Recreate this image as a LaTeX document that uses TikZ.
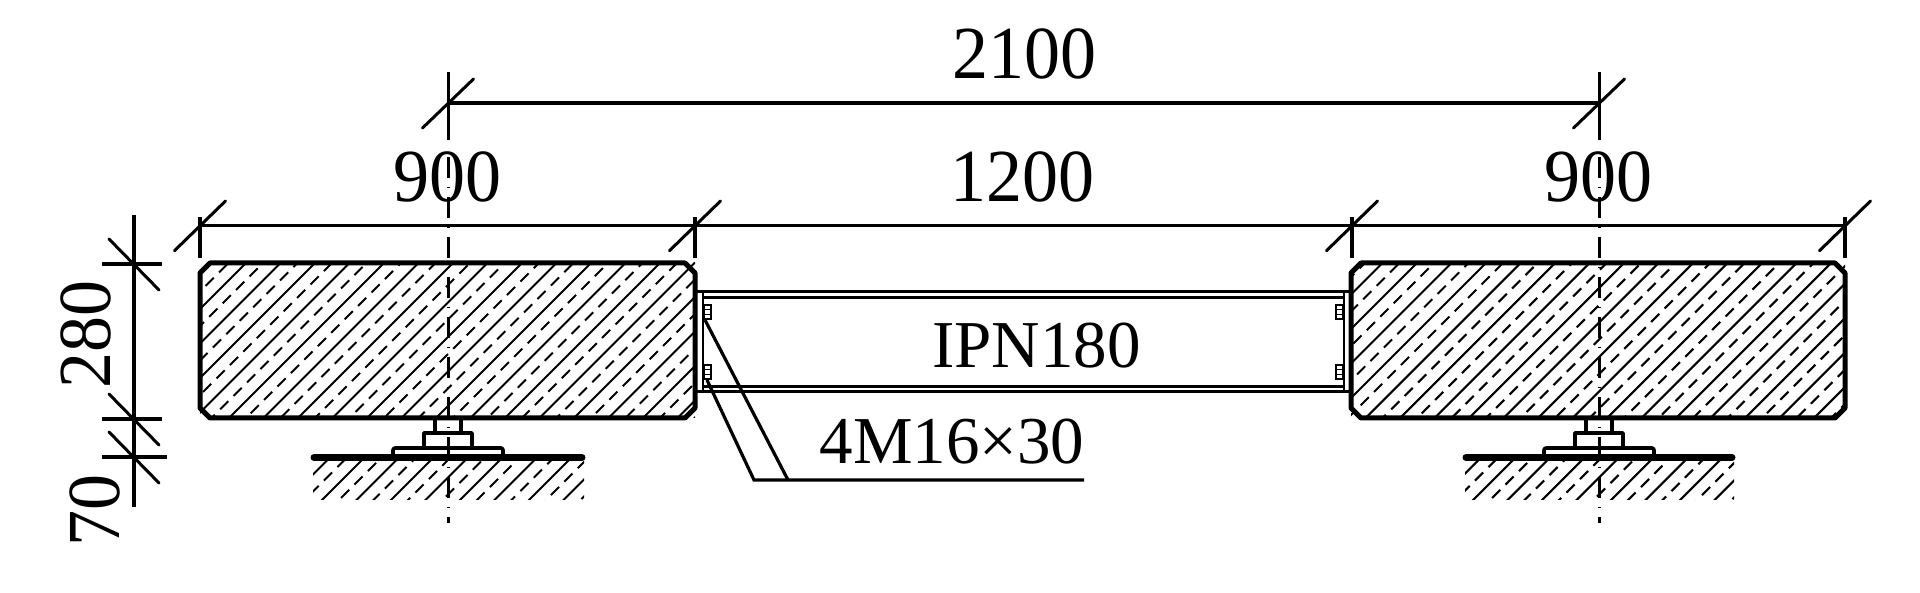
\documentclass[tikz,border=0pt]{standalone}
\usepackage{fontspec}
\setmainfont{Liberation Serif}
\newcommand{\dimfont}{\fontsize{72}{72}\selectfont}
\newcommand{\lblfont}{\fontsize{67}{67}\selectfont}
\newcommand{\dimstr}[1]{\scalebox{1}[1.04]{#1}}
\tikzset{
  outline/.style={line width=5pt,line join=round},
  detail/.style={line width=3.6pt,line join=round},
  dimline/.style={line width=3.2pt},
  slash/.style={line width=3pt,line cap=round},
  hatchsolid/.style={line width=2.1pt},
  hatchdash/.style={line width=2.1pt,dash pattern=on 11.5pt off 7.5pt,dash phase={mod(6.85+5.66*#1+1900,19)}},
  centre/.style={line width=3pt,dash pattern=on 21pt off 9pt on 1pt off 9pt},
  centrelong/.style={line width=3pt},
  groundline/.style={line width=7pt,line cap=round},
  beamline/.style={line width=3pt},
  thin detail/.style={line width=2pt},
  dimtext/.style={font=\dimfont,inner sep=0pt,anchor=base},
  lbltext/.style={font=\lblfont,inner sep=0pt,anchor=base}
}
\begin{document}
\begin{tikzpicture}[x=1pt,y=-1pt]
\useasboundingbox (0,0) rectangle (1920,593);
\fill[white] (0,0) rectangle (1920,593);
% hatching of the blocks and the ground
\begin{scope}
\clip (200,263) rectangle (695,418);
\foreach \k in {-2,...,18}{
  \draw[hatchsolid] ({509+34.5*\k-500},500) -- ({509+34.5*\k-200},200);
  \draw[hatchdash=\k] ({526+34.5*\k-500},500) -- ({526+34.5*\k-200},200);
}
\end{scope}
\begin{scope}
\clip (1351,263) rectangle (1845,418);
\foreach \k in {-2,...,18}{
  \draw[hatchsolid] ({1680+34.5*\k-500},500) -- ({1680+34.5*\k-200},200);
  \draw[hatchdash=\k] ({1697+34.5*\k-500},500) -- ({1697+34.5*\k-200},200);
}
\end{scope}
\begin{scope}
\clip (313,460) rectangle (584,499);
\foreach \k in {-2,...,10}{
  \draw[hatchsolid] ({822+34.5*\k-520},520) -- ({822+34.5*\k-440},440);
  \draw[hatchdash=\k] ({839+34.5*\k-520},520) -- ({839+34.5*\k-440},440);
}
\end{scope}
\begin{scope}
\clip (1465,460) rectangle (1734,499);
\foreach \k in {-2,...,10}{
  \draw[hatchsolid] ({1973+34.5*\k-520},520) -- ({1973+34.5*\k-440},440);
  \draw[hatchdash=\k] ({1990+34.5*\k-520},520) -- ({1990+34.5*\k-440},440);
}
\end{scope}
% blocks
\draw[outline] (210,263) -- (685,263) -- (695,273) -- (695,408) -- (685,418) -- (210,418) -- (200,408) -- (200,273) -- cycle;
\draw[outline] (1361,263) -- (1835,263) -- (1845,273) -- (1845,408) -- (1835,418) -- (1361,418) -- (1351,408) -- (1351,273) -- cycle;
% supports
\foreach \c/\gl/\gr in {448/314/582,1599/1466/1732}{
  \draw[detail] ({\c-13},418) -- ({\c-13},432);
  \draw[detail] ({\c+13},418) -- ({\c+13},432);
  \draw[detail] ({\c-24},448) -- ({\c-24},433) -- ({\c+24},433) -- ({\c+24},448);
  \draw[detail,rounded corners=2pt] ({\c-55},457) -- ({\c-55},448) -- ({\c+55},448) -- ({\c+55},457);
  \draw[groundline] (\gl,457.5) -- (\gr,457.5);
}
% beam
\draw[beamline] (697,292) -- (1351,292);
\draw[beamline] (703,297.5) -- (1343,297.5);
\draw[beamline] (703,387) -- (1343,387);
\draw[beamline] (697,392) -- (1351,392);
\draw[thin detail] (703,292) -- (703,392);
\draw[thin detail] (1343.5,292) -- (1343.5,392);
% bolts
\foreach \ya in {305,365}{
  \draw[thin detail] (704,\ya) rectangle (711,{\ya+14.5});
  \draw[line width=1pt] (704,{\ya+4.5}) -- (711,{\ya+4.5}) (704,{\ya+10}) -- (711,{\ya+10});
  \draw[thin detail] (1336,\ya) rectangle (1343,{\ya+14.5});
  \draw[line width=1pt] (1336,{\ya+4.5}) -- (1343,{\ya+4.5}) (1336,{\ya+10}) -- (1343,{\ya+10});
}
% leader
\coordinate (la) at (705,320);
\coordinate (lb) at (707,380);
\coordinate (lc) at (788,480);
\coordinate (ld) at (754,480);
\coordinate (le) at (1084,480);
\draw[dimline] (la) -- (lc);
\draw[dimline] (lb) -- (ld) -- (le);
% horizontal dimensions
\draw[dimline] (448,103) -- (1599,103);
\draw[dimline] (200,225.5) -- (1846,225.5);
\foreach \x in {200,695,1352,1845}{
  \draw[dimline] (\x,217) -- (\x,258);
  \draw[slash] ({\x-25.5},250.7) -- ({\x+25.5},201);
}
\foreach \x in {448,1599}{
  \draw[slash] ({\x-25.5},128) -- ({\x+25.5},79);
}
% vertical dimensions
\draw[dimline] (134,215) -- (134,507);
\foreach \y/\r in {264/162,419/162,457/167}{
  \draw[dimline] (102,\y) -- (\r,\y);
  \draw[slash] (109,{\y-25}) -- (159,{\y+26});
}
% centre lines
\foreach \c in {448,1599}{
  \draw[centrelong] (\c,72) -- (\c,140);
  \draw[centre] (\c,157) -- (\c,523);
}
% texts
\node[dimtext] (t2100) at (1024,79) {\dimstr{2100}};
\node[dimtext] (t900a) at (447.5,202) {\dimstr{900}};
\node[dimtext] (t1200) at (1022,202) {\dimstr{1200}};
\node[dimtext] (t900b) at (1598,202) {\dimstr{900}};
\node[dimtext,rotate=90] (t280) at (110,334.5) {\dimstr{280}};
\node[dimtext,rotate=90] (t70) at (119,510) {\dimstr{70}};
\node[lbltext] (tipn) at (1036.5,368) {IPN180};
\node[lbltext] (tm) at (952,463) {4M16×30};
\end{tikzpicture}
\end{document}
